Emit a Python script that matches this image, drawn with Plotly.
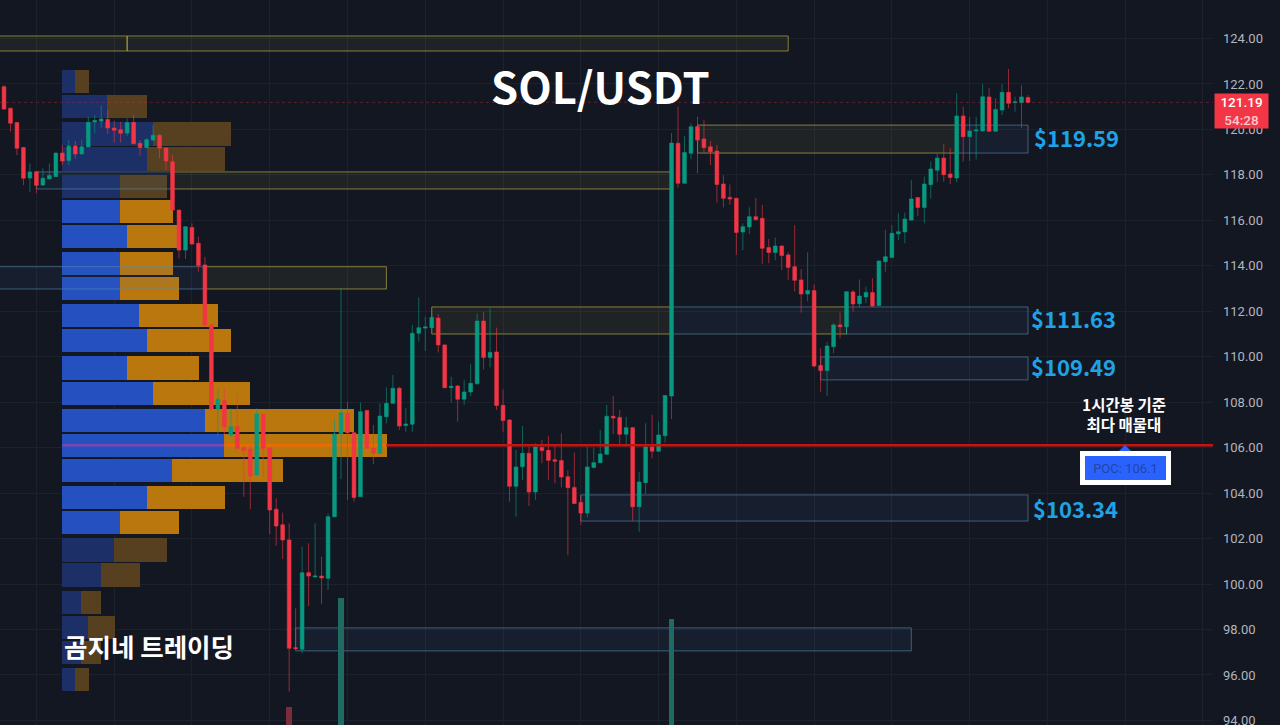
import plotly.graph_objects as go

# candles
opens = [121.88,120.93,120.30,119.20,117.86,118.14,117.55,117.82,117.92,118.96,
         118.63,119.27,118.92,119.23,120.33,120.36,120.44,120.06,119.99,119.84,
         120.31,119.39,119.20,119.53,119.74,119.18,118.58,116.45,114.69,115.69,
         114.99,114.04,111.40,107.69,108.07,106.56,106.92,106.00,105.94,104.80,
         107.46,105.97,103.29,102.61,101.94,97.20,97.13,100.50,100.31,100.35,
         100.25,102.96,106.60,107.51,106.66,103.84,107.63,105.97,105.75,107.36,
         107.95,108.61,106.97,107.03,111.03,111.26,111.28,111.70,110.52,108.64,
         108.71,108.13,108.45,108.81,111.57,109.97,110.21,107.86,107.22,104.30,
         105.16,105.75,104.05,106.01,105.88,105.47,105.43,104.72,104.25,103.59,
         103.12,105.13,105.34,105.71,107.38,107.33,106.59,106.88,103.40,104.46,
         106.03,105.84,106.52,108.27,119.39,117.63,118.95,120.12,119.58,119.24,
         119.05,117.60,117.01,116.97,115.49,115.71,116.16,116.09,114.80,114.59,
         114.87,114.48,113.96,113.38,112.76,112.91,109.61,109.39,110.44,111.40,
         111.32,112.85,112.33,112.63,112.82,112.25,114.18,114.37,115.41,115.49,
         116.01,117.00,116.57,117.57,118.20,118.74,118.04,117.86,120.59,119.68,
         119.93,119.93,121.43,119.92,120.85,121.63,121.18,121.18,121.40]
highs = [121.95,120.96,120.33,119.23,118.51,118.17,118.29,118.51,118.98,119.32,
         119.53,119.49,119.56,120.56,120.63,121.07,120.85,120.37,120.34,120.49,
         120.63,119.53,119.61,120.19,119.80,119.21,118.87,116.47,115.75,115.87,
         115.28,114.40,111.45,108.61,108.61,107.73,108.39,106.12,106.12,107.73,
         107.51,106.00,103.77,103.14,102.67,98.93,101.64,101.79,102.67,101.20,
         103.11,107.25,113.02,108.02,106.68,107.98,107.66,107.00,107.95,108.65,
         109.20,108.68,107.73,111.40,112.61,111.76,111.88,111.88,110.54,109.12,
         108.76,108.98,109.68,111.91,111.98,112.13,111.28,108.56,107.24,105.90,
         106.95,106.04,106.19,106.34,106.51,106.11,106.63,105.01,105.78,103.92,
         106.04,106.01,106.78,107.88,108.27,107.66,107.36,106.89,104.94,107.07,
         107.44,107.14,108.32,119.84,121.00,119.71,120.27,120.56,120.41,119.50,
         119.31,117.99,117.58,116.99,115.87,116.57,116.99,116.68,115.18,115.24,
         114.89,114.59,115.79,113.86,114.59,113.18,110.37,110.66,111.47,111.94,
         112.88,112.94,113.40,113.08,113.45,114.23,115.58,115.79,116.31,116.34,
         117.77,117.02,117.92,118.58,118.95,119.36,119.17,121.59,121.00,120.56,
         120.56,122.00,121.81,121.37,122.00,122.66,121.44,121.95,121.51]
lows = [120.85,119.90,118.87,117.55,117.26,117.19,117.51,117.80,117.91,118.43,
        118.43,118.71,118.91,119.21,119.83,120.05,119.80,119.42,119.42,119.71,
        119.36,118.85,119.17,119.49,118.73,118.21,116.38,114.33,114.30,114.91,
        113.74,111.32,107.60,106.48,106.56,106.48,105.90,103.84,103.29,104.77,
        104.72,102.20,101.69,101.10,95.27,97.13,96.95,99.03,100.30,99.12,
        99.74,102.93,104.61,103.70,103.62,103.84,105.94,105.28,105.72,107.07,
        107.92,106.78,106.70,106.70,110.66,110.25,111.26,110.19,108.61,107.98,
        107.14,107.88,108.27,108.78,109.44,109.53,107.66,106.70,103.62,102.96,
        104.58,103.43,103.70,105.31,104.58,104.43,104.25,101.27,103.52,102.60,
        102.93,105.09,105.31,105.68,106.60,106.11,106.04,102.79,102.30,103.96,
        105.53,105.82,106.22,107.26,117.44,117.61,118.68,118.07,118.99,118.43,
        116.78,116.57,116.68,114.48,114.69,115.40,115.97,114.08,114.11,114.25,
        113.81,113.38,112.86,111.94,112.44,109.53,108.46,108.27,110.15,110.81,
        110.96,111.98,112.17,112.35,112.20,112.23,113.74,114.35,115.13,114.99,
        115.99,116.19,115.87,116.97,117.70,117.70,117.60,117.67,118.58,118.61,
        118.68,119.92,119.89,119.90,120.63,120.93,120.78,120.05,121.14]
closes = [120.90,120.27,119.17,117.85,118.13,117.54,117.85,117.97,118.96,118.61,
          119.27,118.92,119.24,120.31,120.39,120.46,120.06,119.96,119.83,120.30,
          119.37,119.20,119.55,119.74,119.18,118.61,116.45,114.69,115.72,114.96,
          114.01,111.40,107.69,108.13,106.92,106.92,105.97,105.87,104.75,107.48,
          105.97,103.26,102.55,101.94,97.17,97.16,100.50,100.35,100.35,100.27,
          102.96,106.60,107.54,106.66,103.81,107.58,105.97,105.75,107.39,107.95,
          108.61,106.95,107.04,111.03,111.28,111.31,111.72,110.52,108.64,108.70,
          108.13,108.45,108.83,111.57,109.97,110.19,107.85,107.19,104.30,105.15,
          105.75,104.05,106.03,105.87,105.44,105.40,104.71,104.24,103.54,103.12,
          105.15,105.34,105.72,107.38,107.30,106.59,106.88,103.40,104.49,106.03,
          105.84,106.56,108.29,119.40,117.63,118.98,120.12,119.53,119.20,119.02,
          117.58,116.97,116.94,115.47,115.72,116.16,116.04,114.77,114.59,114.87,
          114.45,113.93,113.36,112.76,112.91,109.59,109.39,110.47,111.40,111.32,
          112.86,112.32,112.67,112.83,112.23,114.21,114.40,115.43,115.50,116.06,
          116.94,116.57,117.60,118.26,118.74,118.01,117.89,120.59,119.68,119.93,
          119.97,121.44,119.92,120.88,121.63,121.15,121.21,121.43,121.19]

# the volume bars that reach into the view
volume_idx = [44, 52, 103]
volume_val = [18, 127, 106]
volume_col = ['#7a2d3a', '#1f6b62', '#1f6b62']

# volume profile, top row to bottom row
profile_price = [122.1,121.0,119.8,118.7,117.5,116.4,115.3,114.1,113.0,111.8,110.7,109.5,
                 108.4,107.2,106.1,105.0,103.8,102.7,101.5,100.4,99.2,98.1,97.0,95.8]
profile_buy = [13,45,91,85,58,58,65,58,58,77,85,65,91,143,162,110,85,58,52,39,19,26,19,13]
profile_sell = [14,40,78,78,47,53,52,53,59,79,84,72,97,149,163,111,78,59,53,39,20,27,20,14]
value_area = range(5, 18)

# boxes: first candle, last candle, top price, bottom price, kind
zone_left = [-1,19,5,26,-1,31,66,103,125,130,107,147,126,89,45]
zone_right = [19,121,26,103,31,59,103,125,130,158,147,158,158,158,140]
zone_top = [124.11,124.11,118.13,118.13,113.96,113.96,112.19,112.19,112.19,112.19,
            120.19,120.19,109.99,103.92,98.07]
zone_bottom = [123.45,123.45,117.38,117.38,112.98,112.98,111.0,111.0,111.0,111.0,
               118.96,118.96,108.98,102.77,97.06]
zone_kind = ['y','y','b','y','b','y','y','b','y','b','y','b','b','b','b']

price_ticks = list(range(94, 126, 2))
last_price = 121.19
poc_price = 106.1

BG = '#131722'
W, H = 1213, 725   # plot area, the price scale sits to the right of it
y_range = [124 - 686.5 / 22.73, 124 + 38.5 / 22.73]
x_range = [-4 / 6.481, (W - 4) / 6.481]


def px(x):
    return x / W


def py(y):
    return 1 - y / H


fig = go.Figure()

# empty trace so the base axes with the grid stay in place
fig.add_trace(go.Scatter(x=[], y=[], xaxis='x', yaxis='y', showlegend=False))

# profile
fig.add_trace(go.Bar(
    y=profile_price, x=profile_buy, orientation='h', width=1.02, xaxis='x2', yaxis='y',
    marker=dict(color=['#2450c0' if i in value_area else '#1c2f66' for i in range(24)], line_width=0),
    showlegend=False))
fig.add_trace(go.Bar(
    y=profile_price, x=profile_sell, orientation='h', width=1.02, xaxis='x2', yaxis='y',
    marker=dict(color=['#b9770e' if i in value_area else '#57401f' for i in range(24)], line_width=0),
    showlegend=False))

# boxes
for l, r, t, b, k in zip(zone_left, zone_right, zone_top, zone_bottom, zone_kind):
    if k == 'y':
        line, fill = 'rgba(190,180,70,0.65)', 'rgba(255,240,90,0.06)'
    else:
        line, fill = 'rgba(90,140,175,0.6)', 'rgba(70,120,190,0.09)'
    fig.add_trace(go.Scatter(
        x=[l, r, r, l, l], y=[t, t, b, b, t], mode='lines', fill='toself', fillcolor=fill,
        line=dict(color=line, width=1), xaxis='x3', yaxis='y', showlegend=False, hoverinfo='skip'))

# poc inside the profile, under the candles
fig.add_trace(go.Scatter(x=[9, 34], y=[poc_price, poc_price], mode='lines',
                         line=dict(color='#7a46b0', width=2.5), xaxis='x3', yaxis='y', showlegend=False))
fig.add_trace(go.Scatter(x=[34, 59], y=[poc_price, poc_price], mode='lines',
                         line=dict(color='#ee6a00', width=2.5), xaxis='x3', yaxis='y', showlegend=False))

fig.add_trace(go.Candlestick(
    x=list(range(len(opens))), open=opens, high=highs, low=lows, close=closes,
    increasing=dict(line=dict(color='rgba(8,153,129,0.6)', width=1), fillcolor='#089981'),
    decreasing=dict(line=dict(color='rgba(242,54,69,0.6)', width=1), fillcolor='#f23645'),
    whiskerwidth=0, xaxis='x4', yaxis='y', showlegend=False))

fig.add_trace(go.Bar(x=volume_idx, y=volume_val, width=0.9, marker=dict(color=volume_col, line_width=0),
                     xaxis='x4', yaxis='y2', showlegend=False))

# price lines on top of everything
fig.add_trace(go.Scatter(x=x_range, y=[last_price, last_price], mode='lines',
                         line=dict(color='rgba(242,54,69,0.3)', width=1, dash='dot'),
                         xaxis='x4', yaxis='y', showlegend=False))
fig.add_trace(go.Scatter(x=[59, x_range[1]], y=[poc_price, poc_price], mode='lines',
                         line=dict(color='#c8140f', width=2.5), xaxis='x4', yaxis='y', showlegend=False))

hidden = dict(visible=False, showgrid=False, zeroline=False, fixedrange=True)


def label(text, x, y, size, color='#ffffff', anchor='left', **kw):
    fig.add_annotation(text=text, xref='paper', yref='paper', x=px(x), y=py(y), xanchor=anchor,
                       yanchor='middle', showarrow=False, align='center',
                       font=dict(family='Noto Sans CJK KR', size=size, color=color, weight=700), **kw)


label('SOL/USDT', 600, 85.5, 43.5, anchor='center')
label('곰지네 트레이딩', 62, 645, 25.5)
label('$119.59', 1032, 137, 22, '#1ea3e6')
label('$111.63', 1029, 318, 22, '#1ea3e6')
label('$109.49', 1029, 366, 22, '#1ea3e6')
label('$103.34', 1031, 508, 22, '#1ea3e6')
label('1시간봉 기준<br>최다 매물대', 1124, 414, 15.5, anchor='center')

# poc tag with the small arrow above it
fig.add_annotation(text='POC: 106.1', xref='paper', yref='paper', x=px(1125), y=py(468), xanchor='center',
                   yanchor='middle', showarrow=False, width=81, height=24, bgcolor='#2962ff',
                   bordercolor='#ffffff', borderwidth=5, borderpad=0,
                   font=dict(family='Roboto', size=13, color='#2444a8'))
fig.add_shape(type='path', xref='paper', yref='paper', line_width=0, fillcolor='#2962ff',
              path=f'M {px(1119)},{py(451)} L {px(1125)},{py(445)} L {px(1131)},{py(451)} Z')

# last price tag on the scale
fig.add_annotation(text='121.19<br><span style="color:#ffc9cf">54:28</span>', xref='paper', yref='paper',
                   x=px(1214), y=py(111), xanchor='left', yanchor='middle', showarrow=False,
                   width=53, height=34, bgcolor='#f23645', borderpad=0,
                   font=dict(family='Roboto', size=13.5, color='#ffffff', weight=500))

fig.update_layout(
    width=1280, height=H,
    margin=dict(l=0, r=1280 - W, t=0, b=0, pad=0, autoexpand=False),
    paper_bgcolor=BG, plot_bgcolor=BG,
    barmode='stack', bargap=0, boxgap=0.18, hovermode=False, showlegend=False,
    xaxis=dict(range=x_range, tick0=5, dtick=12, showgrid=True, gridcolor='#1d212c', gridwidth=1,
               zeroline=False, showticklabels=False, ticks='', showline=False, fixedrange=True),
    xaxis2=dict(range=[-62, W - 62], overlaying='x', **hidden),
    xaxis3=dict(range=x_range, overlaying='x', **hidden),
    xaxis4=dict(range=x_range, overlaying='x', rangeslider=dict(visible=False), **hidden),
    yaxis=dict(range=y_range, side='right', tickvals=price_ticks, ticktext=[f'{p:.2f}' for p in price_ticks],
               showgrid=True, gridcolor='#1d212c', gridwidth=1, zeroline=False, showline=False, ticks='',
               ticklabelstandoff=9, ticklabeloverflow='allow', automargin=False, fixedrange=True,
               tickfont=dict(family='Roboto', size=13, color='#b2b5be')),
    yaxis2=dict(range=[0, H], overlaying='y', **hidden),
)

fig.write_html("out.html", config=dict(displayModeBar=False),
               post_script="document.body.style.margin='0';document.body.style.background='#131722';")
